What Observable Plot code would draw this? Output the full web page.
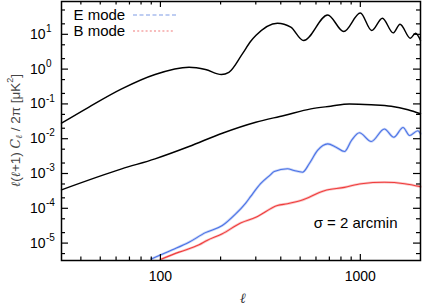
<!DOCTYPE html>
<html>
<head>
<meta charset="utf-8">
<script src="https://cdn.jsdelivr.net/npm/d3@7"></script>
<script src="https://cdn.jsdelivr.net/npm/@observablehq/plot@0.6"></script>
<style>
  html, body { margin: 0; padding: 0; background: white; }
</style>
</head>
<body>
<div id="chart"></div>
<script>
// ---- data (multipole ℓ, ℓ(ℓ+1)C_ℓ/2π in μK²) ----
const eeTheoryL = [32, 43.7, 64, 94, 139, 168, 202, 220, 257, 283, 300, 385, 449, 520, 687, 826, 1000, 1140, 1290, 1459, 1580, 1780, 1890, 2000];
const eeTheoryV = [0.028, 0.080, 0.27, 0.70, 1.13, 0.975, 0.70, 0.81, 2.75, 6.3, 9.2, 20.9, 16, 6.6, 36, 12, 41, 12.9, 29, 11, 19.5, 7.7, 10.8, 6.7];

const bbLensL = [32, 64, 94, 139, 204, 300, 416, 566, 711, 881, 1134, 1427, 1731, 2000];
const bbLensV = [3.4e-4, 1.36e-3, 2.64e-3, 5.97e-3, 0.0144, 0.0298, 0.0465, 0.072, 0.086, 0.10, 0.095, 0.086, 0.068, 0.052];

const eModeL = [90, 114, 139, 168, 204, 238, 252, 267, 283, 317, 356, 371, 432, 466, 514, 555, 611, 687, 756, 833, 903, 989, 1134, 1319, 1471, 1636, 1763, 1940, 2000];
const eModeV = [3.5e-6, 6.3e-6, 1.06e-5, 2.0e-5, 3.2e-5, 6.95e-5, 9.7e-5, 1.4e-4, 2.2e-4, 5.1e-4, 9.3e-4, 1.15e-3, 1.37e-3, 1.22e-3, 1.09e-3, 1.9e-3, 4.6e-3, 7.1e-3, 5.7e-3, 4.3e-3, 8.9e-3, 0.0148, 8.3e-3, 0.019, 0.011, 0.021, 0.0124, 0.017, 0.0139];

const bModeL = [100, 124, 156, 171, 204, 252, 300, 385, 432, 504, 661, 833, 1012, 1319, 1665, 2000];
const bModeV = [3.4e-6, 5.5e-6, 8.9e-6, 1.19e-5, 1.85e-5, 3.8e-5, 5.5e-5, 1.2e-4, 1.35e-4, 1.67e-4, 3.2e-4, 4.0e-4, 5.1e-4, 5.6e-4, 5.1e-4, 4.2e-4];

const xMajor = [100, 1000];
const xMinor = [40, 50, 60, 70, 80, 90, 200, 300, 400, 500, 600, 700, 800, 900];
const yMajor = [1e-5, 1e-4, 1e-3, 1e-2, 1e-1, 1, 10];
const yMinor = [5e-6, 2e-5, 5e-5, 2e-4, 5e-4, 2e-3, 5e-3, 2e-2, 5e-2, 0.2, 0.5, 2, 5, 20, 50];

const legendLabels = ["E mode", "B mode"];
const noteLabel = "σ = 2 arcmin";

// ---- build tables ----
const zip = (L, V) => L.map((l, i) => ({l, v: V[i]}));
const eeTheory = zip(eeTheoryL, eeTheoryV);
const bbLens = zip(bbLensL, bbLensV);
const eMode = zip(eModeL, eModeV);
const bMode = zip(bModeL, bModeV);

const W = 422, H = 305;
const mL = 61, mR = 2, mT = 1, mB = 45;
const pW = W - mL - mR, pH = H - mT - mB;

const font = "'Liberation Sans', Arial, Helvetica, sans-serif";
const blue = "#4a72e6", red = "#ef3d3d";

const svg = Plot.plot({
  width: W, height: H,
  marginLeft: mL, marginRight: mR, marginTop: mT, marginBottom: mB,
  style: {fontFamily: font, fontSize: "14px", background: "white", color: "black", overflow: "visible"},
  x: {type: "log", domain: [32, 2000], axis: null},
  y: {type: "log", domain: [Math.pow(10, -5.5), Math.pow(10, 1.943)], axis: null},
  marks: [
    Plot.line(eMode, {x: "l", y: "v", stroke: blue, strokeWidth: 2.6, strokeOpacity: 0.3, curve: "monotone-x"}),
    Plot.line(bMode, {x: "l", y: "v", stroke: red, strokeWidth: 2.6, strokeOpacity: 0.3, curve: "monotone-x"}),
    Plot.line(eMode, {x: "l", y: "v", stroke: blue, strokeWidth: 1.1, curve: "monotone-x"}),
    Plot.line(bMode, {x: "l", y: "v", stroke: red, strokeWidth: 1.1, curve: "monotone-x"}),
    Plot.line(bbLens, {x: "l", y: "v", stroke: "black", strokeWidth: 1.45, curve: "monotone-x"}),
    Plot.line(eeTheory, {x: "l", y: "v", stroke: "black", strokeWidth: 1.45, curve: "monotone-x"}),
    // ticks (inward, mirrored)
    Plot.tickX(xMajor, {x: d => d, insetTop: pH - 6, stroke: "black", strokeWidth: 1.2}),
    Plot.tickX(xMajor, {x: d => d, insetBottom: pH - 6, stroke: "black", strokeWidth: 1.2}),
    Plot.tickX(xMinor, {x: d => d, insetTop: pH - 3.5, stroke: "black", strokeWidth: 1.2}),
    Plot.tickX(xMinor, {x: d => d, insetBottom: pH - 3.5, stroke: "black", strokeWidth: 1.2}),
    Plot.tickY(yMajor, {y: d => d, insetRight: pW - 7, stroke: "black", strokeWidth: 1.2}),
    Plot.tickY(yMajor, {y: d => d, insetLeft: pW - 7, stroke: "black", strokeWidth: 1.2}),
    Plot.tickY(yMinor, {y: d => d, insetRight: pW - 4, stroke: "black", strokeWidth: 1.2}),
    Plot.tickY(yMinor, {y: d => d, insetLeft: pW - 4, stroke: "black", strokeWidth: 1.2}),
    Plot.frame({stroke: "black", strokeWidth: 1.5}),
    // tick labels
    Plot.text(xMajor, {x: d => d, frameAnchor: "bottom", dy: 16, lineAnchor: "middle", text: d => String(d), fontSize: 14, fill: "black"}),
    Plot.text(yMajor, {y: d => d, frameAnchor: "left", dx: -16, textAnchor: "end", lineAnchor: "middle", text: () => "10", fontSize: 14, fill: "black"}),
    Plot.text(yMajor, {y: d => d, frameAnchor: "left", dx: -15.5, dy: -5.5, textAnchor: "start", lineAnchor: "middle", text: d => String(Math.round(Math.log10(d))).replace("−", "-"), fontSize: 10, fill: "black"}),
    // legend labels and annotation
    Plot.text([legendLabels[0]], {frameAnchor: "top-left", dx: 12, dy: 14, lineAnchor: "middle", textAnchor: "start", text: d => d, fontSize: 15, fill: "black"}),
    Plot.text([legendLabels[1]], {frameAnchor: "top-left", dx: 12, dy: 30, lineAnchor: "middle", textAnchor: "start", text: d => d, fontSize: 15, fill: "black"}),
    Plot.text([noteLabel], {frameAnchor: "bottom-right", dx: -23, dy: -37, lineAnchor: "middle", textAnchor: "end", text: d => d, fontSize: 15, fill: "black"})
  ]
});

const s = d3.select(svg);
// legend swatches
s.append("line").attr("x1", 133).attr("x2", 177).attr("y1", 15).attr("y2", 15)
  .attr("stroke", "#7f9be6").attr("stroke-width", 1.2).attr("stroke-dasharray", "4,2.5");
s.append("line").attr("x1", 133).attr("x2", 175).attr("y1", 31).attr("y2", 31)
  .attr("stroke", "#f07a7a").attr("stroke-width", 1.2).attr("stroke-dasharray", "2,2.2");

// x axis label
s.append("text").attr("x", 243).attr("y", 299).attr("text-anchor", "middle")
  .attr("dominant-baseline", "middle").attr("font-family", "'DejaVu Serif', serif")
  .attr("font-style", "italic").attr("font-size", 14).attr("fill", "#333").text("ℓ");

// y axis label
const yl = s.append("text").attr("transform", `translate(16,${mT + pH / 2}) rotate(-90)`)
  .attr("text-anchor", "middle").attr("dominant-baseline", "middle")
  .attr("font-family", font).attr("font-size", 13.5).attr("fill", "#444");
const it = (t) => yl.append("tspan").attr("font-style", "italic").attr("font-family", "'DejaVu Serif', serif").attr("font-size", 12.5).text(t);
const rm = (t) => yl.append("tspan").text(t);
it("ℓ"); rm("("); it("ℓ"); rm("+1) "); it("C");
yl.append("tspan").attr("font-style", "italic").attr("font-family", "'DejaVu Serif', serif").attr("font-size", 9).attr("dy", 3).text("ℓ");
yl.append("tspan").attr("dy", -3).text(" / 2π [μK");
yl.append("tspan").attr("font-size", 9).attr("dy", -5).text("2");
yl.append("tspan").attr("dy", 5).text("]");

document.getElementById("chart").appendChild(svg);
</script>
</body>
</html>
